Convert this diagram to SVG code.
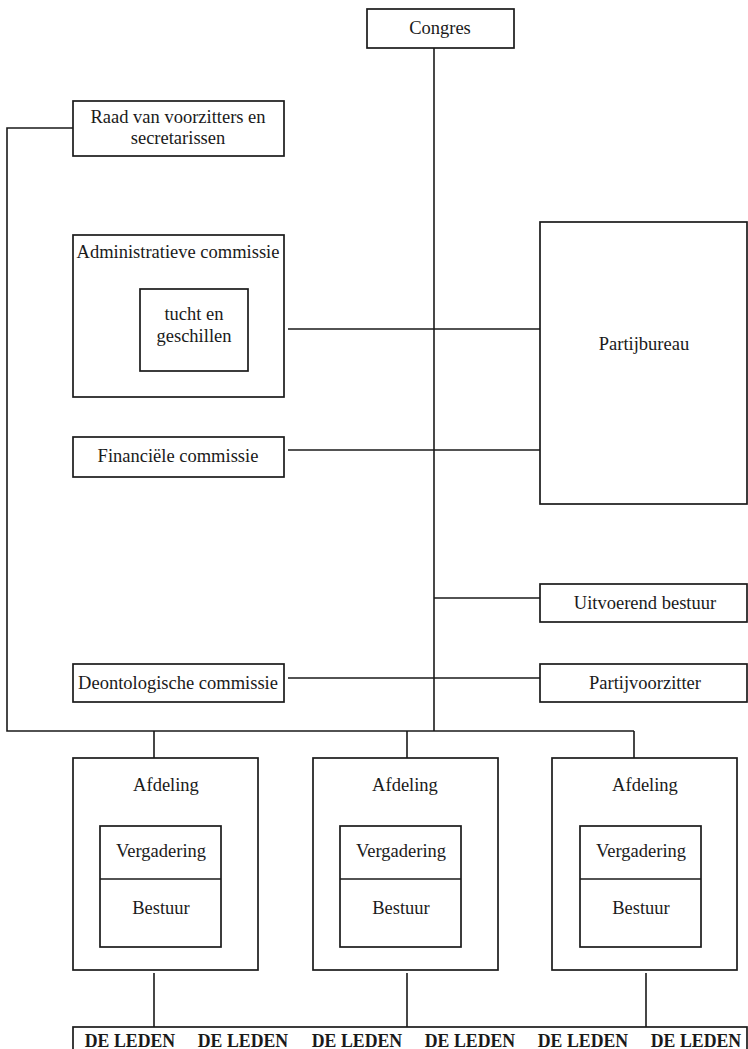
<svg xmlns="http://www.w3.org/2000/svg" width="748" height="1049" viewBox="0 0 748 1049">
<style>
rect{fill:none;stroke:#1a1a1a;stroke-width:1.7}
.c path{fill:none;stroke:#1a1a1a;stroke-width:1.6}
text{font-family:"Liberation Serif","Times New Roman",serif;font-size:18.5px;fill:#1a1a1a;text-anchor:middle;dominant-baseline:central}
.b{font-weight:bold;font-size:17.8px}
</style>
<rect x="0" y="0" width="748" height="1049" style="fill:#fff;stroke:none"/>
<g class="c" id="connectors">
<path d="M434 48V731"/>
<path d="M73 128H7V731H634"/>
<path d="M154 731V758M407 731V758M634 731V758"/>
<path d="M288 329H540"/>
<path d="M288 450H540"/>
<path d="M434 598H540"/>
<path d="M288 678H540"/>
<path d="M154 973V1027M407 973V1027M646 973V1027"/>
</g>
<g id="congres"><rect x="367" y="9" width="147" height="39"/><text x="440" y="28">Congres</text></g>
<g id="raad"><rect x="73" y="101" width="211" height="55"/><text x="178" y="117">Raad van voorzitters en</text><text x="178" y="138">secretarissen</text></g>
<g id="admin"><rect x="73" y="235" width="211" height="162"/><text x="178" y="252">Administratieve commissie</text></g>
<g id="tucht"><rect x="140" y="289" width="108" height="82"/><text x="194" y="314">tucht en</text><text x="194" y="336">geschillen</text></g>
<g id="partijbureau"><rect x="540" y="222" width="207" height="282"/><text x="644" y="344">Partijbureau</text></g>
<g id="financiele"><rect x="73" y="437" width="211" height="40"/><text x="178" y="456">Financiële commissie</text></g>
<g id="uitvoerend"><rect x="540" y="584" width="207" height="38"/><text x="645" y="603">Uitvoerend bestuur</text></g>
<g id="deontologische"><rect x="73" y="664" width="211" height="38"/><text x="178" y="683">Deontologische commissie</text></g>
<g id="partijvoorzitter"><rect x="540" y="664" width="207" height="38"/><text x="645" y="683">Partijvoorzitter</text></g>
<g id="afdeling1"><rect x="73" y="758" width="185" height="212"/><text x="166" y="785">Afdeling</text>
<rect x="100" y="826" width="121" height="121"/><path d="M100 879H221" style="stroke:#1a1a1a;stroke-width:1.7"/><text x="161" y="851">Vergadering</text><text x="161" y="908">Bestuur</text></g>
<g id="afdeling2"><rect x="313" y="758" width="185" height="212"/><text x="405" y="785">Afdeling</text>
<rect x="340" y="826" width="121" height="121"/><path d="M340 879H461" style="stroke:#1a1a1a;stroke-width:1.7"/><text x="401" y="851">Vergadering</text><text x="401" y="908">Bestuur</text></g>
<g id="afdeling3"><rect x="552" y="758" width="185" height="212"/><text x="645" y="785">Afdeling</text>
<rect x="580" y="826" width="121" height="121"/><path d="M580 879H701" style="stroke:#1a1a1a;stroke-width:1.7"/><text x="641" y="851">Vergadering</text><text x="641" y="908">Bestuur</text></g>
<g id="leden"><rect x="73" y="1027" width="674" height="40"/>
<text class="b" x="130" y="1041">DE LEDEN</text><text class="b" x="243" y="1041">DE LEDEN</text><text class="b" x="357" y="1041">DE LEDEN</text><text class="b" x="470" y="1041">DE LEDEN</text><text class="b" x="583" y="1041">DE LEDEN</text><text class="b" x="696" y="1041">DE LEDEN</text></g>
</svg>
